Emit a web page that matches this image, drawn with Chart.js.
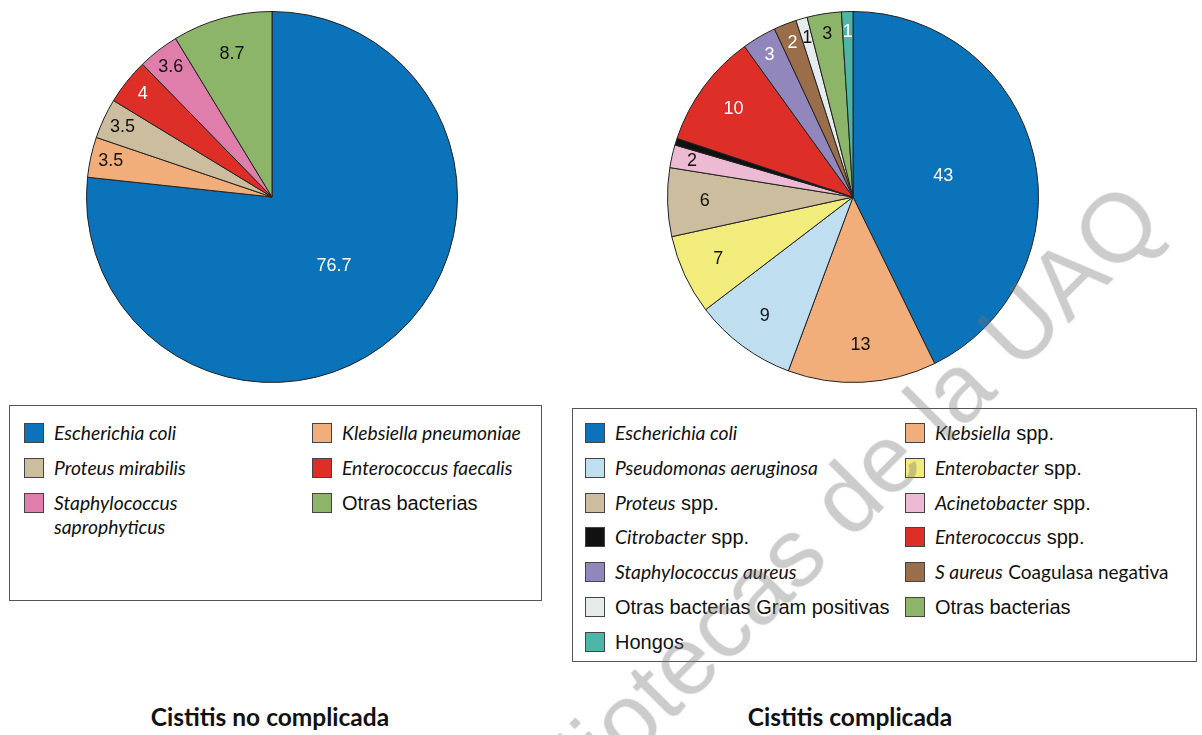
<!DOCTYPE html>
<html lang="es">
<head>
<meta charset="utf-8">
<title>Cistitis no complicada / Cistitis complicada</title>
<script src="https://cdn.jsdelivr.net/npm/chart.js@4.4.1/dist/chart.umd.min.js"></script>
<style>
    body {
        margin: 0;
        width: 1202px;
        height: 735px;
        overflow: hidden;
        position: relative;
        background: #fff;
        font-family: "Liberation Sans", Arial, sans-serif;
        color: #111;
    }
    canvas.pie { position: absolute; }
    .legend {
        position: absolute;
        box-sizing: border-box;
        border: 1px solid #555;
        display: grid;
        align-content: start;
    }
    #legend-simple {
        left: 9px; top: 405px; width: 533px; height: 196px;
        padding: 15px 0 0 14px;
        grid-template-columns: 288px 225px;
        grid-template-rows: 35px 35px auto;
    }
    #legend-complex {
        left: 572px; top: 408px; width: 625px; height: 254px;
        padding: 12px 0 0 12px;
        grid-template-columns: 320px 290px;
        grid-auto-rows: 34.8px;
    }
    .item { display: flex; align-items: flex-start; }
    .swatch {
        flex: none;
        width: 18px; height: 18px;
        margin: 2px 10px 0 0;
        border: 1px solid #444;
    }
    .txt { font-size: 20px; line-height: 24px; }
    #legend-simple .txt { max-width: 200px; }
    .txt i { font-family: Lato, "Open Sans", sans-serif; font-size: 19.3px; }
    .txt .cal { font-family: Lato, "Open Sans", sans-serif; font-size: 19px; }
    .title {
        position: absolute;
        top: 702px;
        width: 400px;
        text-align: center;
        font-family: Lato, "Open Sans", sans-serif;
        font-weight: bold;
        font-size: 24.5px;
    }
    #watermark {
        position: absolute;
        left: 810px; top: 535px;
        transform: translate(-50%, -50%) rotate(-45deg);
        white-space: nowrap;
        font-size: 97px;
        color: rgba(115, 115, 115, 0.36);
        pointer-events: none;
    }
</style>
</head>
<body>
<canvas id="pie-simple" class="pie" width="392" height="392" style="left:76px; top:1px;"></canvas>
<canvas id="pie-complex" class="pie" width="392" height="392" style="left:657px; top:1px;"></canvas>
<div id="legend-simple" class="legend"></div>
<div id="legend-complex" class="legend"></div>
<div class="title" style="left:70px;">Cistitis no complicada</div>
<div class="title" style="left:650px;">Cistitis complicada</div>
<div id="watermark">Bibliotecas de la UAQ</div>

<script>
"use strict";

// Cistitis no complicada (%), clockwise from 12 o'clock
// *...* = italic, _..._ = roman in the italic face
const simpleLabels = ["*Escherichia coli*", "*Klebsiella pneumoniae*", "*Proteus mirabilis*",
    "*Enterococcus faecalis*", "*Staphylococcus saprophyticus*", "Otras bacterias"];
const simpleValues = [76.7, 3.5, 3.5, 4, 3.6, 8.7];
const simpleColors = ["#0a73ba", "#f2ae7a", "#cbbd9e", "#dd2f28", "#df7eab", "#8db56a"];

// Cistitis complicada (%)
const complexLabels = ["*Escherichia coli*", "*Klebsiella* spp.", "*Pseudomonas aeruginosa*",
    "*Enterobacter* spp.", "*Proteus* spp.", "*Acinetobacter* spp.", "*Citrobacter* spp.",
    "*Enterococcus* spp.", "*Staphylococcus aureus*", "*S aureus* _Coagulasa negativa_",
    "Otras bacterias Gram positivas", "Otras bacterias", "Hongos"];
const complexValues = [43, 13, 9, 7, 6, 2, 0.6, 10, 3, 2, 1, 3, 1];
const complexColors = ["#0a73ba", "#f2ae7a", "#bfdeef", "#f1ec7c", "#cbbd9e", "#ecbad2", "#111111",
    "#dd2f28", "#9187bd", "#9a6d4b", "#e6ebeb", "#8db56a", "#4db6a7"];

function isDark(hex) {
    let r = parseInt(hex.substr(1, 2), 16);
    let g = parseInt(hex.substr(3, 2), 16);
    let b = parseInt(hex.substr(5, 2), 16);
    return (0.299 * r + 0.587 * g + 0.114 * b) < 155;
}

// values written inside the slices
const sliceLabels = {
    id: 'sliceLabels',
    afterDatasetsDraw(chart) {
        let ctx = chart.ctx;
        let ds = chart.data.datasets[0];
        let total = ds.data.reduce((a, b) => a + b, 0);
        ctx.save();
        ctx.font = '18px "Liberation Sans", Arial, sans-serif';
        ctx.textAlign = 'center';
        ctx.textBaseline = 'middle';
        chart.getDatasetMeta(0).data.forEach(function(arc, i) {
            let v = ds.data[i];
            if (v < 1) return;
            let p = arc.getProps(['x', 'y', 'startAngle', 'endAngle', 'outerRadius'], true);
            let share = v / total;
            let k = share > 0.3 ? 0.5 : (share < 0.05 ? 0.89 : 0.8);
            let a = (p.startAngle + p.endAngle) / 2;
            ctx.fillStyle = isDark(ds.backgroundColor[i]) ? '#fff' : '#111';
            ctx.fillText(String(v), p.x + Math.cos(a) * p.outerRadius * k, p.y + Math.sin(a) * p.outerRadius * k);
        });
        ctx.restore();
    }
};

function makePie(id, labels, values, colors) {
    return new Chart(document.getElementById(id), {
        type: 'pie',
        data: {
            labels: labels.map((l) => l.replace(/[*_]/g, '')),
            datasets: [{
                data: values,
                backgroundColor: colors,
                borderColor: '#222',
                borderWidth: 1
            }]
        },
        options: {
            responsive: false,
            animation: false,
            layout: { padding: 10 },
            plugins: {
                legend: { display: false },
                tooltip: { enabled: false }
            }
        },
        plugins: [sliceLabels]
    });
}

function markup(label) {
    return label
        .replace(/\*([^*]+)\*/g, '<i>$1</i>')
        .replace(/_([^_]+)_/g, '<span class="cal">$1</span>');
}

function buildLegend(id, labels, colors) {
    let box = document.getElementById(id);
    labels.forEach(function(l, i) {
        let item = document.createElement('div');
        item.className = 'item';
        item.innerHTML = '<span class="swatch" style="background:' + colors[i] + '"></span>' +
            '<span class="txt">' + markup(l) + '</span>';
        box.appendChild(item);
    });
}

makePie('pie-simple', simpleLabels, simpleValues, simpleColors);
makePie('pie-complex', complexLabels, complexValues, complexColors);
buildLegend('legend-simple', simpleLabels, simpleColors);
buildLegend('legend-complex', complexLabels, complexColors);
</script>
</body>
</html>
